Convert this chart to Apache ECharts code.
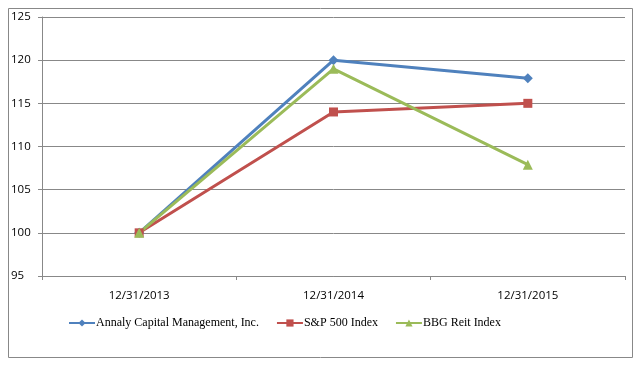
<!DOCTYPE html>
<html><head><meta charset="utf-8">
<script src="https://cdn.jsdelivr.net/npm/echarts@6/dist/echarts.min.js"></script>
<style>html,body{margin:0;padding:0;background:#fff}#c{width:641px;height:369px}</style>
</head><body><div id="c"></div>
<script>
const categories = ['12/31/2013', '12/31/2014', '12/31/2015'];
const annaly = [100, 120, 117.9];
const sp500 = [100, 114, 115];
const bbgReit = [100, 119, 107.9];
const seriesNames = ['Annaly Capital Management, Inc.', 'S&P 500 Index', 'BBG Reit Index'];
const yTicks = [95, 100, 105, 110, 115, 120, 125];

const chart = echarts.init(document.getElementById('c'));
function mk(name, data, color, symbol, size) {
  return {
    name, type: 'line', data, symbol, symbolSize: size,
    lineStyle: { color, width: 3 },
    itemStyle: { color },
    emphasis: { disabled: true }
  };
}
chart.setOption({
  animation: false,
  graphic: [{ type: 'rect', shape: { x: 8.5, y: 8.5, width: 624, height: 349 },
    style: { fill: 'none', stroke: '#888', lineWidth: 1 }, silent: true }],
  grid: { left: 42, right: 16, top: 17, bottom: 93 },
  xAxis: {
    type: 'category', data: categories, boundaryGap: true,
    axisLine: { show: true, lineStyle: { color: '#888', width: 1 } },
    axisTick: { show: true, length: 4, lineStyle: { color: '#888' } },
    axisLabel: { color: '#000', fontFamily: 'Open Sans, DejaVu Sans', fontSize: 11.5, margin: 14 }
  },
  yAxis: {
    type: 'value', min: yTicks[0], max: yTicks[yTicks.length - 1], interval: 5,
    axisLine: { show: true, lineStyle: { color: '#888', width: 1 } },
    axisTick: { show: true, length: 4, lineStyle: { color: '#888' } },
    splitLine: { show: true, lineStyle: { color: '#888', width: 1 } },
    axisLabel: { color: '#000', fontFamily: 'Open Sans, DejaVu Sans', fontSize: 11.5, margin: 10, align: 'left',
      padding: [0, 0, 0, -21] }
  },
  legend: {
    top: 312, left: 63, itemGap: 17, itemWidth: 26, itemHeight: 9,
    textStyle: { fontFamily: 'Liberation Serif, Times New Roman', fontSize: 12, color: '#000', padding: [0, 0, 0, -4] },
    data: seriesNames
  },
  series: [
    mk(seriesNames[0], annaly, '#4F81BD', 'diamond', 10),
    mk(seriesNames[1], sp500, '#C0504D', 'rect', 9),
    mk(seriesNames[2], bbgReit, '#9BBB59', 'triangle', 10)
  ]
});
</script></body></html>
